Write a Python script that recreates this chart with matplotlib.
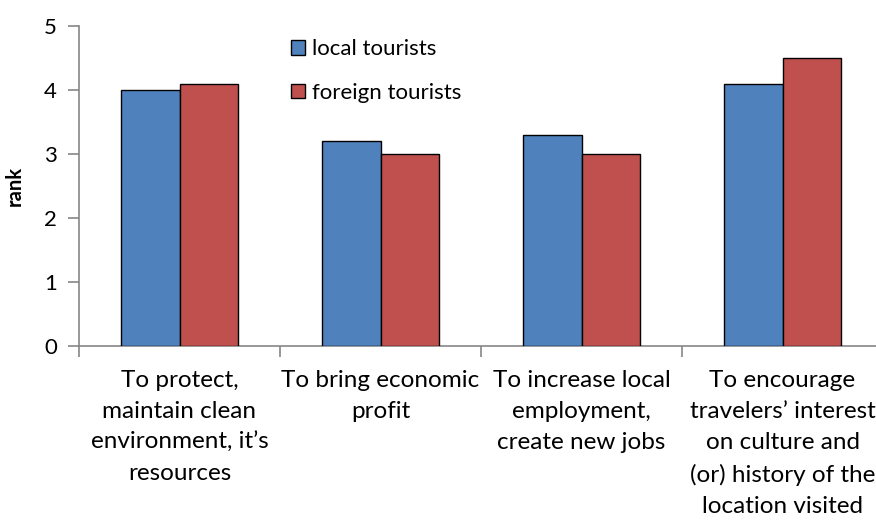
import numpy as np
import matplotlib.pyplot as plt

plt.rcParams['font.family'] = ['Lato', 'DejaVu Sans']

# data
categories = [
    "To protect,\nmaintain clean\nenvironment, it\u2019s\nresources",
    "To bring economic\nprofit",
    "To increase local\nemployment,\ncreate new jobs",
    "To encourage\ntravelers\u2019 interest\non culture and\n(or) history of the\nlocation visited",
]
local_tourists = [4.0, 3.2, 3.3, 4.1]
foreign_tourists = [4.1, 3.0, 3.0, 4.5]
series_names = ["local tourists", "foreign tourists"]

W, H = 876, 520
fig = plt.figure(figsize=(W / 100, H / 100), dpi=100)

# plot area (extends a little past the right edge, like the source)
left, right, top, bottom = 79, 883, 26, 346
ax = fig.add_axes([left / W, 1 - bottom / H, (right - left) / W, (bottom - top) / H])

x = np.arange(len(categories))
width = 0.289

ax.bar(x - width / 2, local_tourists, width, color='#4F81BD',
       edgecolor='black', linewidth=1.0, label=series_names[0], zorder=3)
ax.bar(x + width / 2, foreign_tourists, width, color='#C0504D',
       edgecolor='black', linewidth=1.0, label=series_names[1], zorder=3)

ax.set_xlim(-0.5, len(categories) - 0.5)
ax.set_ylim(0, 5)
ax.set_yticks(range(0, 6))

# category boundaries as major ticks, labels on minor ticks
ax.set_xticks(np.arange(-0.5, len(categories), 1.0))
ax.set_xticklabels([])
ax.set_xticks(x, minor=True)
ax.set_xticklabels(categories, minor=True, fontsize=17.5, linespacing=1.6)
ax.tick_params(axis='x', which='minor', length=0, pad=17)
ax.tick_params(axis='x', which='major', length=8, width=1.2, color='#868686', direction='out')
ax.tick_params(axis='y', length=8, width=1.2, color='#868686', direction='out',
               labelsize=16, pad=8)

for side in ['top', 'right']:
    ax.spines[side].set_visible(False)
for side in ['left', 'bottom']:
    ax.spines[side].set_color('#868686')
    ax.spines[side].set_linewidth(1.2)

ax.set_ylabel("rank", fontsize=14.5, fontweight='bold', labelpad=14)

leg = ax.legend(loc='upper left', bbox_to_anchor=((278 - left) / (right - left), 1.0),
                frameon=False, fontsize=16, handlelength=0.6, handleheight=0.6,
                handletextpad=0.35, labelspacing=1.05, borderaxespad=0.2)

fig.savefig("out.png", dpi=100)
